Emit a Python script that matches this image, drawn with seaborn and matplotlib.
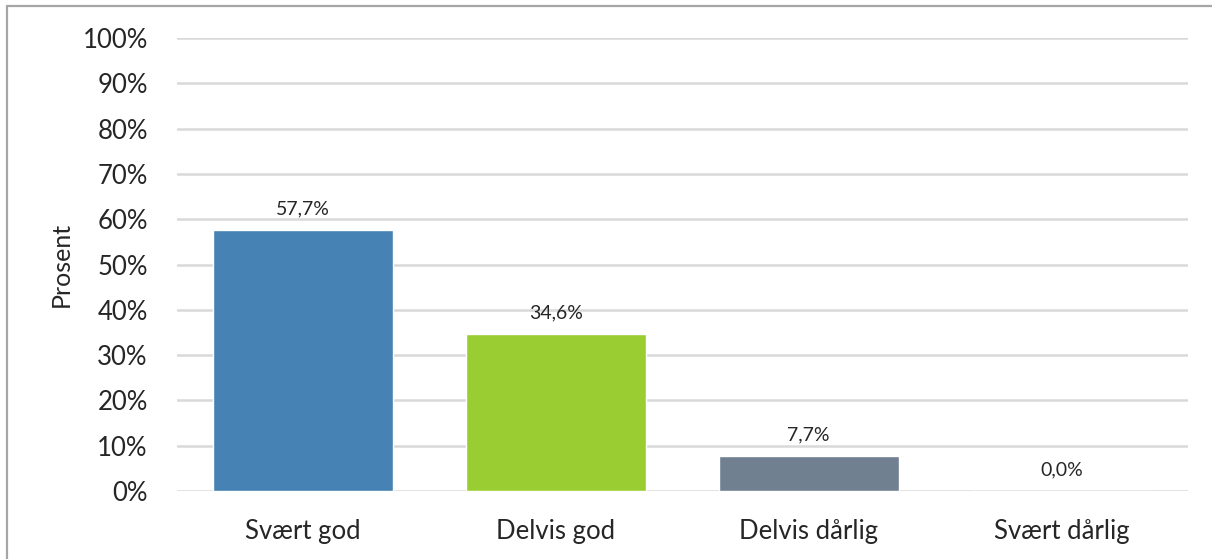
import matplotlib
matplotlib.use("Agg")
import matplotlib.pyplot as plt
import seaborn as sns
import pandas as pd
from matplotlib.lines import Line2D

categories = ["Svært god", "Delvis god", "Delvis dårlig", "Svært dårlig"]
values = [57.7, 34.6, 7.7, 0.0]
colors = ["#4682B4", "#9ACD32", "#708090", "#708090"]
yticks = [0, 10, 20, 30, 40, 50, 60, 70, 80, 90, 100]

sns.set_theme(style="white")
plt.rcParams['font.family'] = ['Lato', 'DejaVu Sans']

df = pd.DataFrame({"cat": categories, "val": values})

fig = plt.figure(figsize=(12.12, 5.59), dpi=100)
ax = fig.add_axes([0.146, 0.1216, 0.834, 0.8104])

sns.barplot(data=df, x="cat", y="val", hue="cat", palette=colors, legend=False,
            width=0.712, ax=ax, saturation=1, zorder=3)

ax.set_ylim(0, 100)
ax.set_xlim(-0.5, 3.5)
ax.set_yticks(yticks)
ax.set_yticklabels([f"{t}%" for t in yticks], fontsize=18.5)
ax.tick_params(axis='x', labelsize=18.5, length=0, pad=20)
ax.tick_params(axis='y', length=0, pad=21)
ax.set_xlabel("")
ax.set_ylabel("Prosent", fontsize=18, labelpad=7)
ax.grid(axis='y', color='#D9D9D9', linewidth=1.8, zorder=0)
ax.grid(axis='x', visible=False)
for s in ax.spines.values():
    s.set_visible(False)

for i, v in enumerate(values):
    ax.text(i, v + 2.8, f"{v:.1f}%".replace(".", ","), ha='center', va='bottom', fontsize=14)

# outer frame (left and top edges)
fig.add_artist(Line2D([0.0055, 0.0055], [0, 0.989], transform=fig.transFigure, color='#A6A6A6', linewidth=1.6))
fig.add_artist(Line2D([0.0055, 1], [0.989, 0.989], transform=fig.transFigure, color='#A6A6A6', linewidth=1.6))

fig.savefig("out.png", dpi=100)
